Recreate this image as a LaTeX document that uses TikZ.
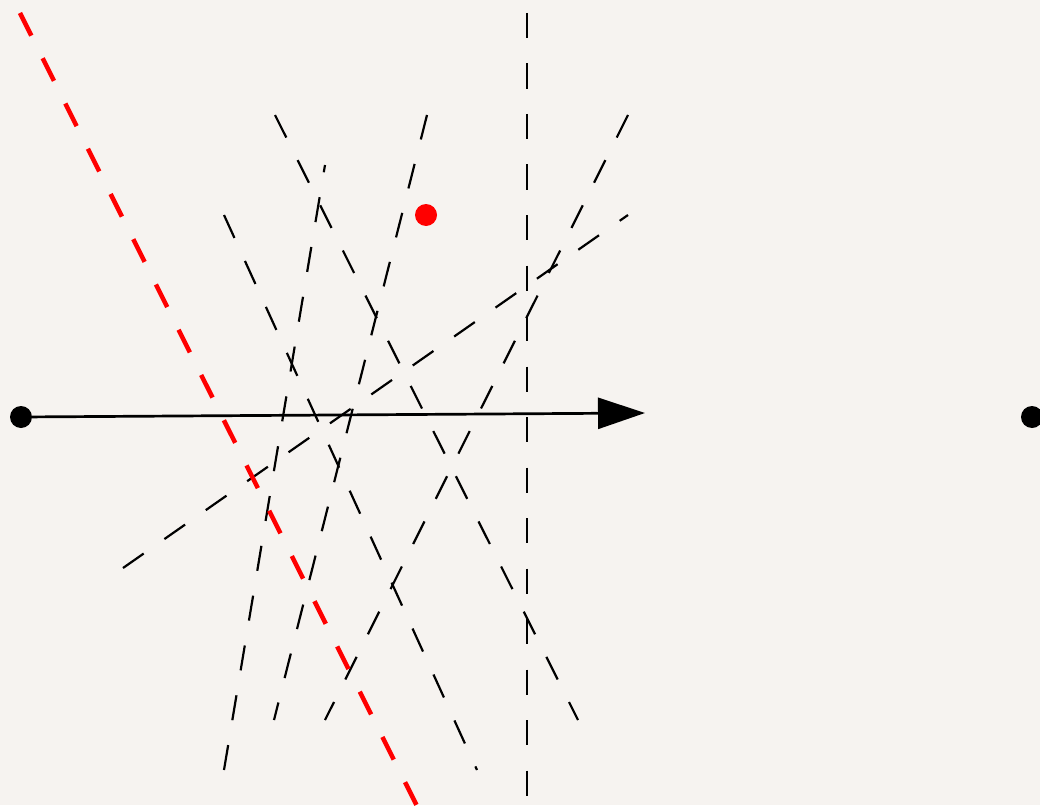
\documentclass[tikz,border=0pt]{standalone}
\usepackage{xcolor}
\usepackage{tikz}
\usetikzlibrary{arrows.meta}
\definecolor{paper}{RGB}{246,243,240}

\begin{document}
\begin{tikzpicture}[
    x=1pt, y=-1pt,
    dot/.style={circle, fill=black, inner sep=0pt, minimum size=22pt},
    reddot/.style={circle, fill=red, inner sep=0pt, minimum size=22pt},
    ray/.style={draw=black, line width=2.2pt, dash pattern=on 25.25pt off 25.25pt},
    redray/.style={draw=red, line width=4.5pt, dash pattern=on 25.3pt off 25.3pt},
    arrow/.style={-{Triangle[length=47pt, width=31pt]}, line width=2.7pt},
]
\useasboundingbox (0,0) rectangle (1040,805);
\fill[paper] (0,0) rectangle (1040,805);
\clip (0,0) rectangle (1040,805);

% end points of the rays
\coordinate (a1) at (275,115);  \coordinate (a2) at (578,720);
\coordinate (b1) at (224,215);  \coordinate (b2) at (477,770);
\coordinate (c1) at (224,770);  \coordinate (c2) at (325,165);
\coordinate (d1) at (427,115);  \coordinate (d2) at (274,720);
\coordinate (e1) at (628,115);  \coordinate (e2) at (325,720);
\coordinate (f1) at (123,568);  \coordinate (f2) at (628,215);
\coordinate (g1) at (527,13);   \coordinate (g2) at (527,796);
\coordinate (r1) at (20,13);    \coordinate (r2) at (420,812);

\draw[ray] (a1) -- (a2);
\draw[ray] (b1) -- (b2);
\draw[ray] (c1) -- (c2);
\draw[ray] (d1) -- (d2);
\draw[ray] (e1) -- (e2);
\draw[ray] (f1) -- (f2);
\draw[ray] (g1) -- (g2);
\draw[redray] (r1) -- (r2);

\node[dot] (src) at (21,417) {};
\node[dot] (dst) at (1032,417) {};
\node[reddot] (pt) at (426,215) {};
\coordinate (tip) at (645,413);

\draw[arrow] (src) -- (tip);
\end{tikzpicture}
\end{document}
